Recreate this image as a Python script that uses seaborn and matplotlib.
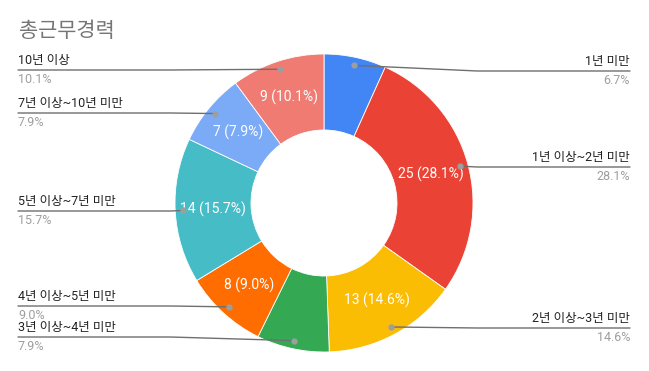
import numpy as np
import matplotlib
matplotlib.use("Agg")
import matplotlib.pyplot as plt
import seaborn as sns
from matplotlib.lines import Line2D

# ---- data ----
categories = ["1년 미만", "1년 이상~2년 미만", "2년 이상~3년 미만", "3년 이상~4년 미만",
              "4년 이상~5년 미만", "5년 이상~7년 미만", "7년 이상~10년 미만", "10년 이상"]
counts = [6, 25, 13, 7, 8, 14, 7, 9]
colors = ["#4285F4", "#EA4335", "#FBBC04", "#34A853", "#FF6D01", "#46BDC6", "#7BAAF7", "#F07B72"]
show_inside = [False, True, True, False, True, True, True, True]
title = "총근무경력"

# ---- layout (pixels from top of 649x371 image) ----
label_side = ["right", "right", "right", "left", "left", "left", "left", "left"]
label_line_y = [71, 167, 328, 337, 306, 211, 113, 70]

sns.set_theme(style="white")
plt.rcParams["font.family"] = ["Roboto", "Noto Sans CJK KR", "DejaVu Sans"]

W, H = 649, 371
fig = plt.figure(figsize=(W / 100, H / 100), dpi=100)
fig.patch.set_facecolor("white")

cx, cy, R = 324, 203, 149
ax = fig.add_axes([(cx - R) / W, (H - cy - R) / H, 2 * R / W, 2 * R / H])

total = sum(counts)
pcts = [c / total * 100 for c in counts]
wedges, _ = ax.pie(counts, colors=colors, startangle=90, counterclock=False, radius=1,
                   wedgeprops=dict(width=0.51, edgecolor="white", linewidth=0.6))
ax.set_xlim(-1, 1)
ax.set_ylim(-1, 1)
ax.set_aspect("auto")
ax.axis("off")

def fig_px(x, y):
    return x / W, (H - y) / H

for i, w in enumerate(wedges):
    mid = np.deg2rad((w.theta1 + w.theta2) / 2)
    if show_inside[i]:
        rr = 0.745
        ax.text(rr * np.cos(mid), rr * np.sin(mid), f"{counts[i]} ({pcts[i]:.1f}%)",
                ha="center", va="center", color="white", fontsize=10)
    rd = 0.945
    dx, dy = ax.transData.transform((rd * np.cos(mid), rd * np.sin(mid)))
    dot_px = (dx, H - dy)
    ly = label_line_y[i]
    if label_side[i] == "right":
        end_x = 630
        elbow_x = cx + R * 1.03
        tx, ha = 630, "right"
    else:
        end_x = 18
        elbow_x = cx - R * 1.03
        tx, ha = 18, "left"
    xs = [dot_px[0], elbow_x, end_x]
    ys = [dot_px[1], ly, ly]
    if (label_side[i] == "right" and dot_px[0] > elbow_x) or (label_side[i] == "left" and dot_px[0] < elbow_x):
        xs = [dot_px[0], end_x]
        ys = [dot_px[1], ly]
    fxs = [x / W for x in xs]
    fys = [(H - y) / H for y in ys]
    fig.add_artist(Line2D(fxs, fys, color="#6f6f6f", linewidth=1.0, transform=fig.transFigure))
    fig.add_artist(Line2D([dot_px[0] / W], [(H - dot_px[1]) / H], marker="o", markersize=3.5,
                          color="#9e9e9e", linestyle="none", transform=fig.transFigure))
    x0, y0 = fig_px(tx, ly - 3)
    fig.text(x0, y0, categories[i], ha=ha, va="bottom", fontsize=9, color="#222222")
    x1, y1 = fig_px(tx, ly + 3)
    fig.text(x1, y1, f"{pcts[i]:.1f}%", ha=ha, va="top", fontsize=9, color="#9e9e9e")

tx, ty = fig_px(19, 31)
fig.text(tx, ty, title, ha="left", va="center", fontsize=15, color="#757575")

fig.savefig("out.png", dpi=100, facecolor="white")
